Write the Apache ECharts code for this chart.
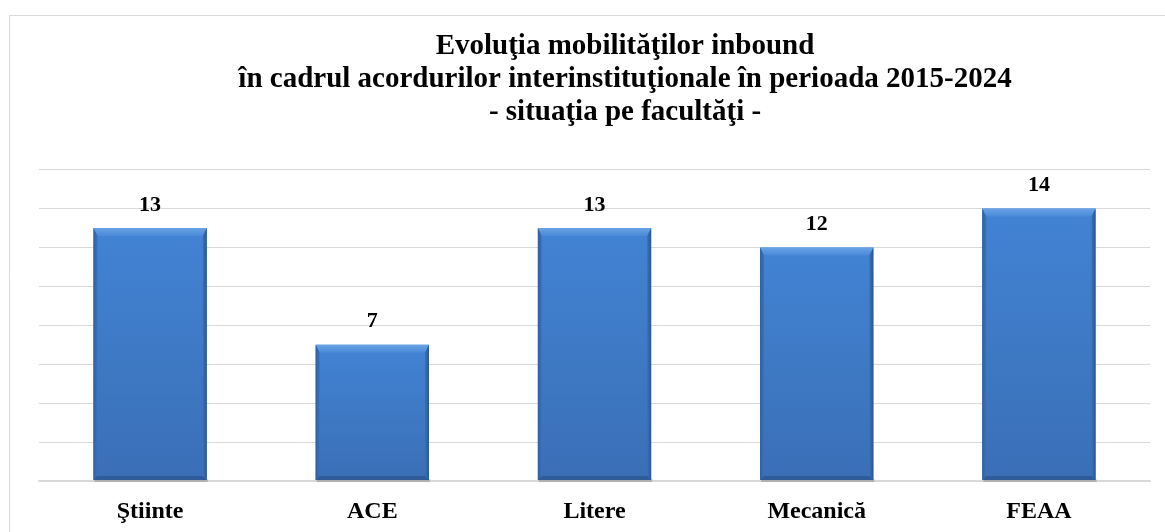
<!DOCTYPE html>
<html>
<head>
<meta charset="utf-8">
<script src="https://cdn.jsdelivr.net/npm/echarts@6/dist/echarts.min.js"></script>
<style>
html,body{margin:0;padding:0;background:#fff;}
#chart{width:1165px;height:532px;}
</style>
</head>
<body>
<div id="chart"></div>
<script>
const titleLines = [
  'Evoluţia mobilităţilor inbound',
  'în cadrul acordurilor interinstituţionale în perioada 2015-2024',
  '- situaţia pe facultăţi -'
];
const categories = ['Ştiinte', 'ACE', 'Litere', 'Mecanică', 'FEAA'];
const values = [13, 7, 13, 12, 14];
const yMin = 0, yMax = 16, yInterval = 2;

const serif = 'Liberation Serif, Times New Roman, serif';
const chart = echarts.init(document.getElementById('chart'));

function lin(x0, y0, x1, y1, stops) {
  return new echarts.graphic.LinearGradient(x0, y0, x1, y1,
    stops.map(s => ({offset: s[0], color: s[1]})));
}

chart.setOption({
  backgroundColor: '#ffffff',
  animation: false,
  title: {
    text: titleLines.join('\n'),
    left: 620,
    top: 25,
    textAlign: 'center',
    textStyle: {
      fontFamily: serif,
      fontWeight: 'bold',
      fontSize: 29,
      lineHeight: 33,
      color: '#000000'
    }
  },
  graphic: [{
    type: 'rect',
    shape: {x: 9.5, y: 15.5, width: 1400, height: 700},
    style: {fill: null, stroke: '#d9d9d9', lineWidth: 1},
    silent: true,
    z: -1
  }],
  grid: {left: 39, right: 15, top: 169.5, bottom: 51, containLabel: false},
  xAxis: {
    type: 'category',
    data: categories,
    axisTick: {show: false},
    axisLine: {show: true, lineStyle: {color: '#d9d9d9', width: 2}},
    axisLabel: {
      margin: 19,
      fontFamily: serif,
      fontWeight: 'bold',
      fontSize: 24,
      color: '#000000'
    }
  },
  yAxis: {
    type: 'value',
    min: yMin,
    max: yMax,
    interval: yInterval,
    axisLabel: {show: false},
    axisLine: {show: false},
    axisTick: {show: false},
    splitLine: {lineStyle: {color: '#d9d9d9', width: 1}}
  },
  series: [
    {
      type: 'custom',
      data: values.map((v, i) => [i, v]),
      encode: {x: 0, y: 1},
      z: 3,
      renderItem: function (params, api) {
        const xi = api.value(0), v = api.value(1);
        const top = api.coord([xi, v]);
        const base = api.coord([xi, 0]);
        const bw = api.size([1, 0])[0] * 0.51;
        const l = top[0] - bw / 2, r = top[0] + bw / 2, t = top[1], b = base[1] - 1;
        const bev = 8, sb = 4;
        return {
          type: 'group',
          children: [
            {type: 'rect', shape: {x: l + 1, y: b - 1, width: bw, height: 3},
             style: {fill: 'rgba(60,60,60,0.25)'}},
            {type: 'rect', shape: {x: l, y: t, width: bw, height: b - t},
             style: {fill: lin(0, 0, 0, 1, [[0, '#4283d4'], [1, '#3a6fb6']])}},
            {type: 'polygon', shape: {points: [[l, t], [r, t], [r - sb, t + bev], [l + sb, t + bev]]},
             style: {fill: lin(0, 0, 0, 1, [[0, '#6aa3e6'], [1, '#4a8ad8']])}},
            {type: 'polygon', shape: {points: [[l, t], [l + sb, t + bev], [l + sb, b - sb], [l, b]]},
             style: {fill: lin(1, 0, 0, 0, [[0, '#3b72bd'], [1, '#2f5f9f']])}},
            {type: 'polygon', shape: {points: [[r, t], [r - sb, t + bev], [r - sb, b - sb], [r, b]]},
             style: {fill: lin(0, 0, 1, 0, [[0, '#3a70ba'], [1, '#2b5793']])}},
            {type: 'polygon', shape: {points: [[l, b], [l + sb, b - sb], [r - sb, b - sb], [r, b]]},
             style: {fill: '#2f5c99'}}
          ]
        };
      }
    },
    {
      type: 'bar',
      data: values,
      barWidth: '51%',
      z: 1,
      itemStyle: {color: 'rgba(0,0,0,0)'},
      label: {
        show: true,
        position: 'top',
        distance: 12,
        fontFamily: serif,
        fontWeight: 'bold',
        fontSize: 22,
        color: '#000000'
      }
    }
  ]
});
</script>
</body>
</html>
